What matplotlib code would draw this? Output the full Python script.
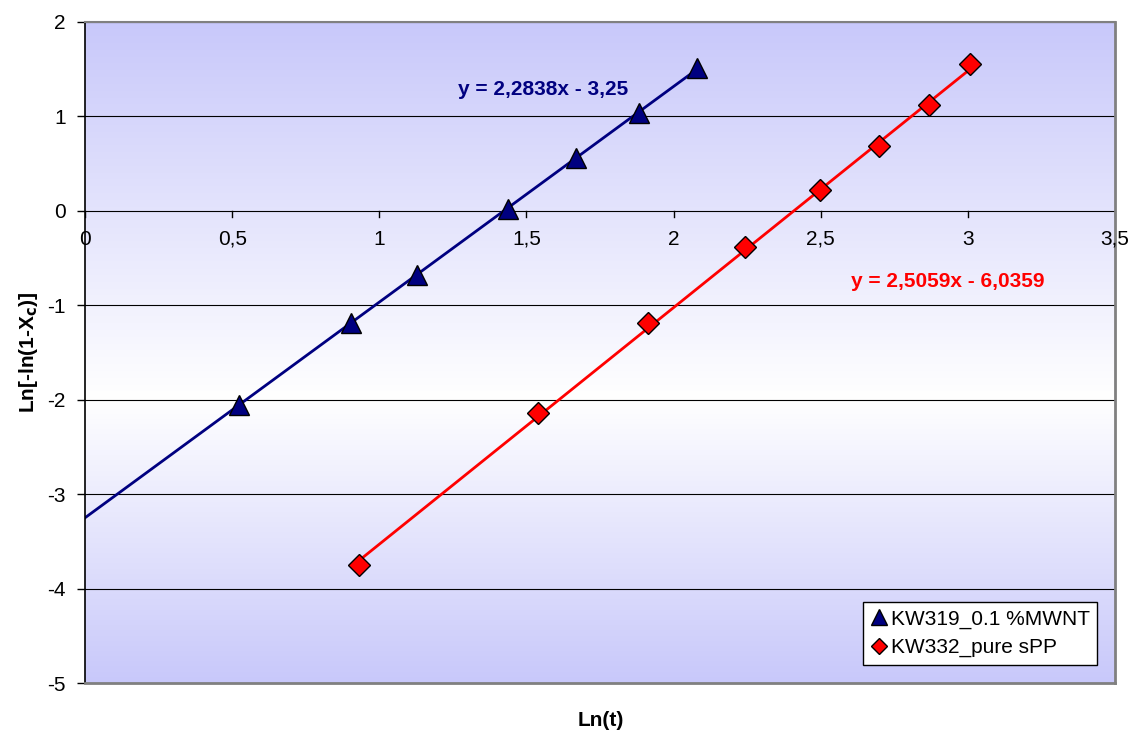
import numpy as np
import matplotlib.pyplot as plt
from matplotlib.colors import LinearSegmentedColormap

plt.rcParams['font.family'] = ['Liberation Sans', 'DejaVu Sans']

# Données
x_kw319 = [0.523, 0.904, 1.128, 1.437, 1.668, 1.882, 2.080]
y_kw319 = [-2.06, -1.19, -0.68, 0.02, 0.56, 1.04, 1.51]
x_kw332 = [0.931, 1.539, 1.913, 2.243, 2.497, 2.698, 2.868, 3.007]
y_kw332 = [-3.75, -2.14, -1.19, -0.385, 0.22, 0.686, 1.12, 1.554]
x_ticks = [0, 0.5, 1, 1.5, 2, 2.5, 3, 3.5]
y_ticks = [-5, -4, -3, -2, -1, 0, 1, 2]

# Droites de régression (affichées sur le graphique)
a1, b1 = 2.2838, -3.25
a2, b2 = 2.5059, -6.0359

fig = plt.figure(figsize=(11.31, 7.33), dpi=100)
ax = fig.add_axes([0.0752, 0.0682, 0.9107, 0.9018])

# Fond en dégradé (style Excel)
cmap = LinearSegmentedColormap.from_list(
    'fond', [(0.0, '#c8c8fa'), (0.43, '#ffffff'), (1.0, '#c8c8fa')])
grad = np.linspace(0, 1, 256).reshape(-1, 1)
ax.imshow(grad, cmap=cmap, aspect='auto', extent=(0, 3.5, 2, -5),
          zorder=0, origin='upper')

ax.set_xlim(0, 3.5)
ax.set_ylim(-5, 2)

# Lignes de grille horizontales
for yv in y_ticks[1:]:
    ax.axhline(yv, color='black', linewidth=0.8, zorder=1)

# Courbes de tendance
xt1 = np.array([0, max(x_kw319)])
ax.plot(xt1, a1 * xt1 + b1, color='#000080', linewidth=2, zorder=2)
xt2 = np.array([min(x_kw332), max(x_kw332)])
ax.plot(xt2, a2 * xt2 + b2, color='#ff0000', linewidth=2, zorder=2)

# Points
ax.plot(x_kw319, y_kw319, linestyle='none', marker='^', markersize=15,
        markerfacecolor='#000080', markeredgecolor='black', markeredgewidth=1,
        label='KW319_0.1 %MWNT', zorder=3)
ax.plot(x_kw332, y_kw332, linestyle='none', marker='D', markersize=11,
        markerfacecolor='#ff0000', markeredgecolor='black', markeredgewidth=1,
        label='KW332_pure sPP', zorder=3)

# Equations
ax.text(1.556, 1.28, 'y = 2,2838x - 3,25', color='#000080', fontsize=15,
        fontweight='bold', ha='center', va='center')
ax.text(2.93, -0.745, 'y = 2,5059x - 6,0359', color='#ff0000', fontsize=15,
        fontweight='bold', ha='center', va='center')

# Axes
ax.spines['left'].set_position(('data', 0))
ax.spines['left'].set_color('black')
ax.spines['left'].set_linewidth(1.2)
ax.spines['bottom'].set_color('#808080')
ax.spines['bottom'].set_linewidth(2)
ax.spines['top'].set_color('#808080')
ax.spines['top'].set_linewidth(1.5)
ax.spines['right'].set_color('#808080')
ax.spines['right'].set_linewidth(2)

ax.set_yticks(y_ticks)
ax.set_yticklabels([str(v) for v in y_ticks], fontsize=15)
ax.tick_params(axis='y', direction='out', length=6, width=1, pad=8)

# Etiquettes de x sous la ligne y=0
ax.set_xticks([])
for v in x_ticks:
    ax.plot([v, v], [0, -0.06], color='black', linewidth=1, zorder=1)
    ax.text(v, -0.2, f'{v:g}'.replace('.', ','), fontsize=15,
            ha='center', va='top')

fig.text(0.5315, 1 - 720 / 733, 'Ln(t)', fontsize=15, fontweight='bold',
         ha='center', va='center')
fig.text(28 / 1131, 1 - 352 / 733, r'Ln[-ln(1-X$_\mathbf{c}$)]', fontsize=15,
         fontweight='bold', ha='center', va='center', rotation=90)

leg = ax.legend(loc='lower right', bbox_to_anchor=(0.9825, 0.028), fontsize=15,
                frameon=True, fancybox=False, edgecolor='black',
                framealpha=1, handletextpad=0.1, handlelength=0.9,
                borderpad=0.35, labelspacing=0.45, markerscale=0.75,
                borderaxespad=0)
leg.get_frame().set_linewidth(1)

fig.savefig('out.png', dpi=100)
